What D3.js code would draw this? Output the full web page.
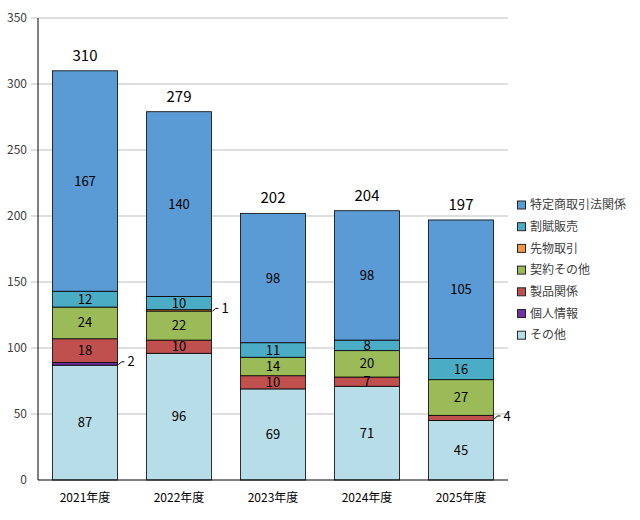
<!DOCTYPE html>
<html>
<head>
<meta charset="utf-8">
<script src="https://cdn.jsdelivr.net/npm/d3@7"></script>
<style>
  body { margin: 0; background: #fff; }
  text { font-family: "Noto Sans CJK JP", "Noto Sans", sans-serif; }
</style>
</head>
<body>
<div id="chart"></div>
<script>
// data
var years = ["2021年度", "2022年度", "2023年度", "2024年度", "2025年度"];
var seriesNames = ["その他", "個人情報", "製品関係", "契約その他", "先物取引", "割賦販売", "特定商取引法関係"];
var seriesColors = ["#b7dde8", "#7030a0", "#c0504d", "#9bbb59", "#f79646", "#4bacc6", "#5b9bd5"];
var sonota   = [87, 96, 69, 71, 45];
var kojin    = [2, 0, 0, 0, 0];
var seihin   = [18, 10, 10, 7, 4];
var keiyaku  = [24, 22, 14, 20, 27];
var sakimono = [0, 1, 0, 0, 0];
var kappu    = [12, 10, 11, 8, 16];
var tokutei  = [167, 140, 98, 98, 105];
var yTicks = [0, 50, 100, 150, 200, 250, 300, 350];

var seriesValues = [sonota, kojin, seihin, keiyaku, sakimono, kappu, tokutei];

var rows = years.map(function(y, i) {
  var r = {year: y};
  seriesNames.forEach(function(s, k) { r[s] = seriesValues[k][i]; });
  return r;
});

var margin = {top: 18, right: 132, bottom: 40, left: 38},
    width = 640 - margin.left - margin.right,
    height = 520 - margin.top - margin.bottom;

var svg = d3.select("#chart").append("svg")
    .attr("width", 640)
    .attr("height", 520);

var g = svg.append("g")
    .attr("transform", "translate(" + margin.left + "," + margin.top + ")");

var x = d3.scaleBand()
    .domain(years)
    .range([0, width])
    .paddingInner(0.31)
    .paddingOuter(0.155);

var y = d3.scaleLinear()
    .domain([0, 350])
    .range([height, 0]);

// gridlines
g.append("g")
  .selectAll("line")
  .data(yTicks.slice(1))
  .enter().append("line")
    .attr("x1", -7)
    .attr("x2", width)
    .attr("y1", function(d) { return y(d); })
    .attr("y2", function(d) { return y(d); })
    .attr("stroke", "#bfbfbf")
    .attr("stroke-width", 1);

// y axis labels
g.append("g")
  .selectAll("text")
  .data(yTicks)
  .enter().append("text")
    .attr("x", -11)
    .attr("y", function(d) { return y(d); })
    .attr("dy", "0.35em")
    .attr("text-anchor", "end")
    .attr("font-size", 12)
    .attr("fill", "#404040")
    .text(function(d) { return d; });

var stack = d3.stack().keys(seriesNames);
var layers = stack(rows);

var layer = g.selectAll(".layer")
  .data(layers)
  .enter().append("g")
    .attr("class", "layer")
    .attr("fill", function(d, i) { return seriesColors[i]; });

layer.selectAll("rect")
  .data(function(d) { return d; })
  .enter().filter(function(d) { return d[1] - d[0] > 0; }).append("rect")
    .attr("x", function(d) { return x(d.data.year); })
    .attr("y", function(d) { return y(d[1]); })
    .attr("width", x.bandwidth())
    .attr("height", function(d) { return y(d[0]) - y(d[1]); })
    .attr("stroke", "#000")
    .attr("stroke-width", 0.8);

// value labels
layers.forEach(function(L) {
  L.forEach(function(d) {
    var v = d[1] - d[0];
    if (v <= 0) return;
    var cx = x(d.data.year) + x.bandwidth() / 2;
    var cy = y((d[0] + d[1]) / 2);
    if (v < 5) {
      var bx = x(d.data.year) + x.bandwidth();
      g.append("path")
        .attr("d", "M" + (bx + 1) + "," + (cy + 1) + "L" + (bx + 4) + "," + (cy - 2) + "L" + (bx + 7) + "," + (cy - 2))
        .attr("fill", "none")
        .attr("stroke", "#000")
        .attr("stroke-width", 1);
      g.append("text")
        .attr("x", bx + 10)
        .attr("y", cy - 2)
        .attr("dy", "0.35em")
        .attr("font-size", 13)
        .attr("fill", "#000")
        .text(v);
    } else {
      g.append("text")
        .attr("x", cx)
        .attr("y", cy)
        .attr("dy", "0.35em")
        .attr("text-anchor", "middle")
        .attr("font-size", 13)
        .attr("fill", "#000")
        .text(v);
    }
  });
});

// totals
g.append("g")
  .selectAll("text")
  .data(rows)
  .enter().append("text")
    .attr("x", function(d) { return x(d.year) + x.bandwidth() / 2; })
    .attr("y", function(d) {
      var t = d3.sum(seriesNames, function(s) { return d[s]; });
      return y(t) - 10;
    })
    .attr("text-anchor", "middle")
    .attr("font-size", 15)
    .attr("fill", "#000")
    .text(function(d) { return d3.sum(seriesNames, function(s) { return d[s]; }); });

// axes lines
g.append("line")
  .attr("x1", 0).attr("x2", 0)
  .attr("y1", 0).attr("y2", height)
  .attr("stroke", "#000");
g.append("line")
  .attr("x1", 0).attr("x2", width)
  .attr("y1", height).attr("y2", height)
  .attr("stroke", "#000");

// x labels
g.append("g")
  .selectAll("text")
  .data(years)
  .enter().append("text")
    .attr("x", function(d) { return x(d) + x.bandwidth() / 2; })
    .attr("y", height + 22)
    .attr("text-anchor", "middle")
    .attr("font-size", 12)
    .attr("fill", "#000")
    .text(function(d) { return d; });

// legend
var legendNames = seriesNames.slice().reverse();
var legendColors = seriesColors.slice().reverse();
var legend = svg.append("g")
    .attr("transform", "translate(517,205)");

legend.selectAll("rect")
  .data(legendNames)
  .enter().append("rect")
    .attr("x", 0.5)
    .attr("y", function(d, i) { return i * 21.7 - 4; })
    .attr("width", 8)
    .attr("height", 8)
    .attr("fill", function(d, i) { return legendColors[i]; })
    .attr("stroke", "#262626")
    .attr("stroke-width", 1);

legend.selectAll("text")
  .data(legendNames)
  .enter().append("text")
    .attr("x", 13)
    .attr("y", function(d, i) { return i * 21.7; })
    .attr("dy", "0.35em")
    .attr("font-size", 12)
    .attr("fill", "#404040")
    .text(function(d) { return d; });
</script>
</body>
</html>
